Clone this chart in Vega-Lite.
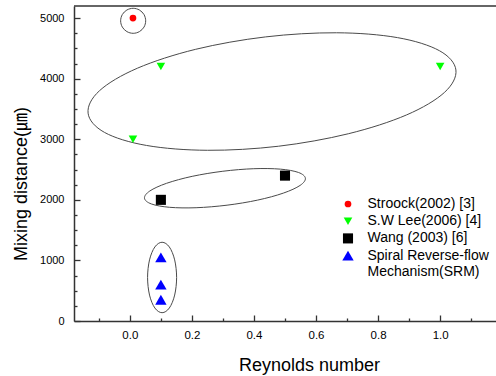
{
  "$schema": "https://vega.github.io/schema/vega-lite/v6.json",
  "width": 422,
  "height": 315,
  "autosize": {"type": "none"},
  "padding": {"left": 74, "top": 6, "right": 0, "bottom": 55},
  "background": "white",
  "config": {
    "view": {"stroke": null},
    "font": "Liberation Sans",
    "axis": {"grid": false, "domainColor": "#333333", "tickColor": "#333333", "labelColor": "#000000", "titleColor": "#000000", "labelFont": "Liberation Sans", "titleFont": "Liberation Sans, Noto Sans CJK JP", "titleFontWeight": "normal"}
  },
  "datasets": {
    "points": [
      {"series": "Stroock(2002) [3]", "x": 0.01, "y": 5000},
      {"series": "S.W Lee(2006) [4]", "x": 0.1, "y": 4200},
      {"series": "S.W Lee(2006) [4]", "x": 0.01, "y": 3000},
      {"series": "S.W Lee(2006) [4]", "x": 1.0, "y": 4200},
      {"series": "Wang (2003) [6]", "x": 0.1, "y": 2000},
      {"series": "Wang (2003) [6]", "x": 0.5, "y": 2400},
      {"series": "Spiral Reverse-flow Mechanism(SRM)", "x": 0.1, "y": 1050},
      {"series": "Spiral Reverse-flow Mechanism(SRM)", "x": 0.1, "y": 600},
      {"series": "Spiral Reverse-flow Mechanism(SRM)", "x": 0.1, "y": 350}
    ],
    "ellipses": [
      {"group": "b", "i": 0, "x": 1.0508, "y": 4144},
      {"group": "b", "i": 1, "x": 1.0136, "y": 3772},
      {"group": "b", "i": 2, "x": 0.8918, "y": 3402},
      {"group": "b", "i": 3, "x": 0.7040, "y": 3091},
      {"group": "b", "i": 4, "x": 0.4788, "y": 2885},
      {"group": "b", "i": 5, "x": 0.2504, "y": 2818},
      {"group": "b", "i": 6, "x": 0.0536, "y": 2898},
      {"group": "b", "i": 7, "x": -0.0816, "y": 3113},
      {"group": "b", "i": 8, "x": -0.1346, "y": 3431},
      {"group": "b", "i": 9, "x": -0.0975, "y": 3803},
      {"group": "b", "i": 10, "x": 0.0243, "y": 4173},
      {"group": "b", "i": 11, "x": 0.2121, "y": 4485},
      {"group": "b", "i": 12, "x": 0.4374, "y": 4690},
      {"group": "b", "i": 13, "x": 0.6658, "y": 4758},
      {"group": "b", "i": 14, "x": 0.8625, "y": 4678},
      {"group": "b", "i": 15, "x": 0.9977, "y": 4462},
      {"group": "w", "i": 0, "x": 0.5657, "y": 2357},
      {"group": "w", "i": 1, "x": 0.5486, "y": 2238},
      {"group": "w", "i": 2, "x": 0.4946, "y": 2111},
      {"group": "w", "i": 3, "x": 0.4120, "y": 1996},
      {"group": "w", "i": 4, "x": 0.3133, "y": 1912},
      {"group": "w", "i": 5, "x": 0.2135, "y": 1870},
      {"group": "w", "i": 6, "x": 0.1279, "y": 1877},
      {"group": "w", "i": 7, "x": 0.0695, "y": 1932},
      {"group": "w", "i": 8, "x": 0.0472, "y": 2027},
      {"group": "w", "i": 9, "x": 0.0643, "y": 2146},
      {"group": "w", "i": 10, "x": 0.1183, "y": 2273},
      {"group": "w", "i": 11, "x": 0.2009, "y": 2388},
      {"group": "w", "i": 12, "x": 0.2996, "y": 2472},
      {"group": "w", "i": 13, "x": 0.3994, "y": 2514},
      {"group": "w", "i": 14, "x": 0.4850, "y": 2507},
      {"group": "w", "i": 15, "x": 0.5434, "y": 2452},
      {"group": "r", "i": 0, "x": 0.0510, "y": 4955},
      {"group": "r", "i": 1, "x": 0.0456, "y": 4852},
      {"group": "r", "i": 2, "x": 0.0308, "y": 4777},
      {"group": "r", "i": 3, "x": 0.0107, "y": 4749},
      {"group": "r", "i": 4, "x": -0.0095, "y": 4777},
      {"group": "r", "i": 5, "x": -0.0243, "y": 4852},
      {"group": "r", "i": 6, "x": -0.0297, "y": 4955},
      {"group": "r", "i": 7, "x": -0.0243, "y": 5059},
      {"group": "r", "i": 8, "x": -0.0095, "y": 5134},
      {"group": "r", "i": 9, "x": 0.0107, "y": 5162},
      {"group": "r", "i": 10, "x": 0.0308, "y": 5134},
      {"group": "r", "i": 11, "x": 0.0456, "y": 5059},
      {"group": "s", "i": 0, "x": 0.1507, "y": 719},
      {"group": "s", "i": 1, "x": 0.1444, "y": 428},
      {"group": "s", "i": 2, "x": 0.1273, "y": 215},
      {"group": "s", "i": 3, "x": 0.1039, "y": 137},
      {"group": "s", "i": 4, "x": 0.0805, "y": 215},
      {"group": "s", "i": 5, "x": 0.0634, "y": 428},
      {"group": "s", "i": 6, "x": 0.0571, "y": 719},
      {"group": "s", "i": 7, "x": 0.0634, "y": 1009},
      {"group": "s", "i": 8, "x": 0.0805, "y": 1222},
      {"group": "s", "i": 9, "x": 0.1039, "y": 1300},
      {"group": "s", "i": 10, "x": 0.1273, "y": 1222},
      {"group": "s", "i": 11, "x": 0.1444, "y": 1009}
    ],
    "border": [{"x": -0.18, "xe": 1.18}]
  },
  "resolve": {"axis": {"x": "independent", "y": "independent"}},
  "layer": [
    {
      "data": {"name": "ellipses"},
      "mark": {"type": "line", "interpolate": "cardinal-closed", "stroke": "#4a4a4a", "strokeWidth": 1},
      "encoding": {
        "x": {"field": "x", "type": "quantitative", "scale": {"domain": [-0.18, 1.18], "nice": false, "zero": false},
              "axis": {"orient": "bottom", "values": [-0.1, 0.1, 0.3, 0.5, 0.7, 0.9, 1.1], "labels": false, "domain": false, "title": null, "tickSize": -3, "tickWidth": 1.3}},
        "y": {"field": "y", "type": "quantitative", "scale": {"domain": [0, 5200], "nice": false, "zero": false},
              "axis": {"orient": "left", "values": [250, 500, 750, 1250, 1500, 1750, 2250, 2500, 2750, 3250, 3500, 3750, 4250, 4500, 4750], "labels": false, "domain": false, "title": null, "tickSize": -3, "tickWidth": 1.3}},
        "detail": {"field": "group", "type": "nominal"},
        "order": {"field": "i", "type": "quantitative"}
      }
    },
    {
      "data": {"name": "border"},
      "mark": {"type": "rule", "stroke": "#333333", "strokeWidth": 1.5},
      "encoding": {
        "x": {"field": "x", "type": "quantitative",
              "axis": {"orient": "bottom", "values": [0, 0.2, 0.4, 0.6, 0.8, 1.0], "labels": false, "domain": false, "title": null, "tickSize": -6, "tickWidth": 1.3}},
        "x2": {"field": "xe"},
        "y": {"datum": 5200, "type": "quantitative",
              "axis": {"orient": "left", "values": [0, 1000, 2000, 3000, 4000, 5000], "labels": false, "domain": false, "title": null, "tickSize": -6, "tickWidth": 1.3}}
      }
    },
    {
      "data": {"name": "points"},
      "mark": {"type": "point", "filled": true, "opacity": 1},
      "encoding": {
        "x": {"field": "x", "type": "quantitative",
              "axis": {"orient": "bottom", "values": [0, 0.2, 0.4, 0.6, 0.8, 1.0], "format": ".1f", "title": "Reynolds number",
                       "domainWidth": 1.5, "ticks": false, "labelPadding": 8, "labelFontSize": 11.5,
                       "titleFontSize": 18, "titleX": 235, "titleY": 49, "titleAlign": "center", "titleBaseline": "alphabetic"}},
        "y": {"field": "y", "type": "quantitative",
              "axis": {"orient": "left", "values": [0, 1000, 2000, 3000, 4000, 5000], "format": "d", "title": "Mixing distance(㎛)",
                       "domainWidth": 1.5, "ticks": false, "labelPadding": 10, "labelFontSize": 11,
                       "titleFontSize": 18, "titleX": -53, "titleY": 177.5, "titleAlign": "center", "titleBaseline": "middle", "titleAngle": -90}},
        "color": {"field": "series", "type": "nominal",
                  "scale": {"domain": ["Stroock(2002) [3]", "S.W Lee(2006) [4]", "Wang (2003) [6]", "Spiral Reverse-flow Mechanism(SRM)"], "range": ["#ff0000", "#00ff00", "#000000", "#0000ff"]},
                  "legend": {"orient": "none", "legendX": 267, "legendY": 191, "title": null, "labelFontSize": 14, "labelFont": "Liberation Sans", "labelColor": "#000000", "labelOffset": 12.5, "rowPadding": 3.2, "padding": 0,
                             "labelExpr": "datum.label == 'Spiral Reverse-flow Mechanism(SRM)' ? ['Spiral Reverse-flow', 'Mechanism(SRM)'] : datum.label"}},
        "shape": {"field": "series", "type": "nominal",
                  "scale": {"domain": ["Stroock(2002) [3]", "S.W Lee(2006) [4]", "Wang (2003) [6]", "Spiral Reverse-flow Mechanism(SRM)"], "range": ["circle", "triangle-down", "square", "triangle-up"]},
                  "legend": {"orient": "none", "legendX": 267, "legendY": 191, "title": null, "labelFontSize": 14, "labelFont": "Liberation Sans", "labelColor": "#000000", "labelOffset": 12.5, "rowPadding": 3.2, "padding": 0,
                             "labelExpr": "datum.label == 'Spiral Reverse-flow Mechanism(SRM)' ? ['Spiral Reverse-flow', 'Mechanism(SRM)'] : datum.label"}},
        "size": {"field": "series", "type": "nominal",
                 "scale": {"domain": ["Stroock(2002) [3]", "S.W Lee(2006) [4]", "Wang (2003) [6]", "Spiral Reverse-flow Mechanism(SRM)"], "range": [45, 130, 30, 130]},
                 "legend": {"orient": "none", "legendX": 267, "legendY": 191, "title": null, "labelFontSize": 14, "labelFont": "Liberation Sans", "labelColor": "#000000", "labelOffset": 12.5, "rowPadding": 3.2, "padding": 0,
                             "labelExpr": "datum.label == 'Spiral Reverse-flow Mechanism(SRM)' ? ['Spiral Reverse-flow', 'Mechanism(SRM)'] : datum.label"}}
      }
    }
  ]
}
